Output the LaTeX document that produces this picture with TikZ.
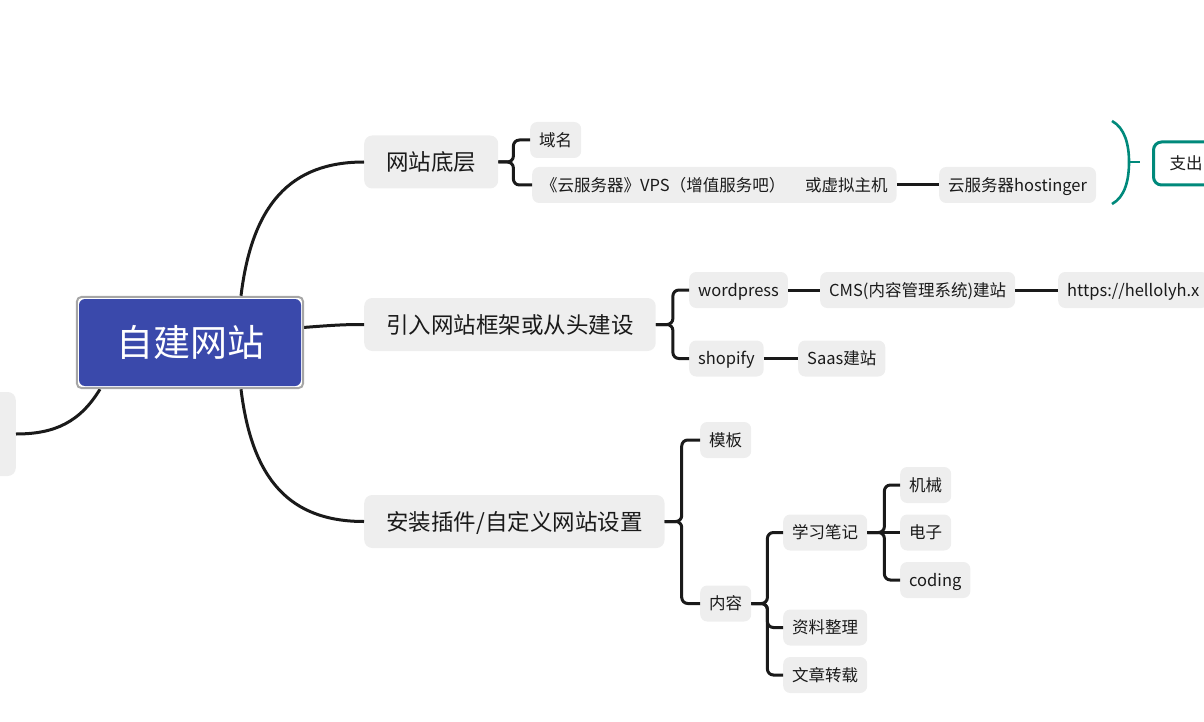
\documentclass[tikz,border=0pt]{standalone}
\usepackage{fontspec}
\setmainfont{Noto Sans CJK SC}
\usetikzlibrary{arrows.meta}

\definecolor{rootblue}{RGB}{58,73,171}
\definecolor{rimgray}{RGB}{166,166,166}
\definecolor{boxgray}{RGB}{238,238,238}
\definecolor{inkblack}{RGB}{26,26,26}
\definecolor{sumteal}{RGB}{0,137,123}

\tikzset{
  root/.style={fill=rootblue, text=white, rounded corners=6pt, minimum width=222pt, minimum height=87pt, inner sep=0pt, font=\fontsize{37}{40}\selectfont},
  topic/.style={fill=boxgray, text=inkblack, rounded corners=8pt, anchor=west, minimum height=53pt, inner xsep=22pt, text height=19pt, text depth=2pt, font=\fontsize{22.5}{25}\selectfont},
  leaf/.style={fill=boxgray, text=inkblack, rounded corners=7pt, anchor=west, minimum height=36pt, inner xsep=9pt, text height=14.5pt, text depth=2pt, font=\fontsize{16.5}{18}\selectfont},
  sumbox/.style={leaf, fill=white, draw=sumteal, line width=3pt, rounded corners=8pt, minimum height=43pt, inner xsep=16pt},
  link/.style={draw=inkblack, line width=3pt},
  fork/.style={link, rounded corners=6pt},
}

\begin{document}
\begin{tikzpicture}[x=1pt,y=-1pt]
        \useasboundingbox (0,0) rectangle (1204,722);
        \clip (0,0) rectangle (1204,722);

        \node[root] (site) at (190,342.5) {自建网站};
        \node[topic, anchor=east, minimum width=70pt, minimum height=84pt] (rest) at (16,434) {};
        \node[topic] (base) at (364,162) {网站底层};
        \node[topic] (build) at (364,324.5) {引入网站框架或从头建设};
        \node[topic] (setup) at (364,521.5) {安装插件/自定义网站设置};

        \draw[link] ([xshift=51pt,yshift=3pt]site.north) .. controls (252,205) and (290,162) .. (base.west);
        \draw[link] ([xshift=2pt,yshift=15pt]site.east) .. controls (335,325) and (345,324.5) .. (build.west);
        \draw[link] ([xshift=51pt,yshift=-3pt]site.south) .. controls (252,480) and (290,521.5) .. (setup.west);
        \draw[link] ([xshift=-90pt,yshift=-3pt]site.south) .. controls (80,422) and (55,434) .. (rest.east);
        \draw[rimgray, line width=2pt, rounded corners=5pt] ([shift={(-2,-2)}]site.north west) rectangle ([shift={(2,2)}]site.south east);

        \node[leaf] (dom) at (530,140) {域名};
        \node[leaf] (host) at (532,185) {《云服务器》VPS（增值服务吧）\hspace{1.2em}或虚拟主机};
        \node[leaf] (cloud) at (939,185) {云服务器hostinger};
        \draw[fork] (base.east) -- ++(15,0) |- (dom.west);
        \draw[fork] (base.east) -- ++(15,0) |- (host.west);
        \draw[link] (host.east) -- (cloud.west);

        \node[sumbox] (spend) at (1152,163.5) {支出};
        \draw[sumteal, line width=2.6pt] (1112,121) .. controls (1125,128) and (1129,145) .. (1129,162) coordinate (tip) .. controls (1129,180) and (1125,197) .. (1112,204);
        \draw[sumteal, line width=2.6pt] (tip) -- ++(11,0);

        \node[leaf] (wp) at (689,290) {wordpress};
        \node[leaf] (cms) at (820,290) {CMS(内容管理系统)建站};
        \node[leaf] (url) at (1058,290) {https://hellolyh.x};
        \node[leaf] (shop) at (689,358.5) {shopify};
        \node[leaf] (saas) at (798,358.5) {Saas建站};
        \draw[fork] (build.east) -- ++(17,0) |- (wp.west);
        \draw[fork] (build.east) -- ++(17,0) |- (shop.west);
        \draw[link] (wp.east) -- (cms.west);
        \draw[link] (cms.east) -- (url.west);
        \draw[link] (shop.east) -- (saas.west);

        \node[leaf] (tpl) at (700,440) {模板};
        \node[leaf] (cont) at (700,603.5) {内容};
        \node[leaf] (notes) at (783,532.5) {学习笔记};
        \node[leaf] (docs) at (783,627.5) {资料整理};
        \node[leaf] (repost) at (783,675) {文章转载};
        \node[leaf] (mech) at (900,485) {机械};
        \node[leaf] (elec) at (900,532.5) {电子};
        \node[leaf] (code) at (900,580) {coding};
        \draw[fork] (setup.east) -- ++(17,0) |- (tpl.west);
        \draw[fork] (setup.east) -- ++(17,0) |- (cont.west);
        \draw[fork] (cont.east) -- ++(16,0) |- (notes.west);
        \draw[fork] (cont.east) -- ++(16,0) |- (docs.west);
        \draw[fork] (cont.east) -- ++(16,0) |- (repost.west);
        \draw[fork] (notes.east) -- ++(17,0) |- (mech.west);
        \draw[link] (notes.east) -- (elec.west);
        \draw[fork] (notes.east) -- ++(17,0) |- (code.west);
\end{tikzpicture}
\end{document}
